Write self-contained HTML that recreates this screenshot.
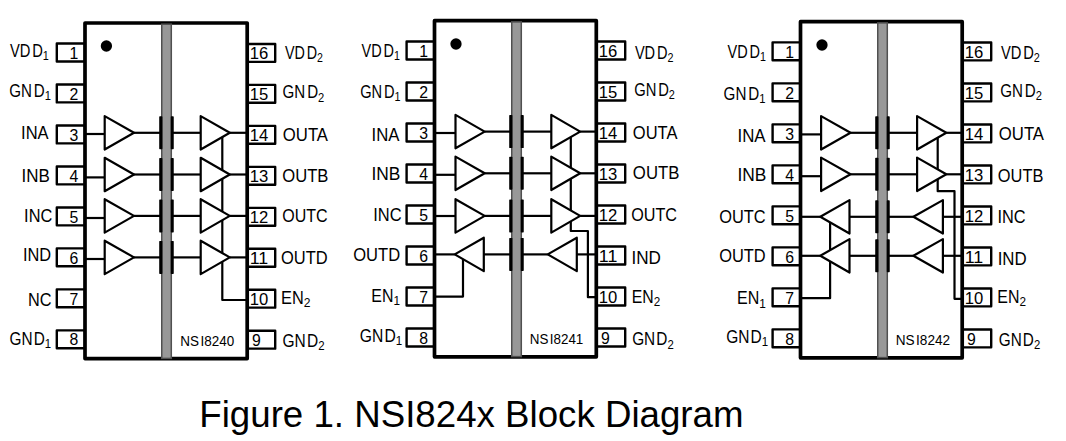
<!DOCTYPE html>
<html lang="en"><head><meta charset="utf-8"><title>Figure 1. NSI824x Block Diagram</title>
<style>html,body{margin:0;padding:0;background:#fff}svg{display:block}text{font-family:"Liberation Sans", sans-serif;fill:#000}.lb{font-size:17.6px}.sb{font-size:13px}.pn{font-size:15.8px}.nm{font-size:14px}.cap{font-size:37.4px;fill:#000}</style></head><body>
<svg width="1066" height="441" viewBox="0 0 1066 441">
<rect width="1066" height="441" fill="#fff"/>
<g>
<g fill="#fff" stroke="#000" stroke-width="2.4" stroke-linejoin="round">
<rect x="56.8" y="43.55" width="28.2" height="17.9"/>
<rect x="56.8" y="84.52" width="28.2" height="17.9"/>
<rect x="56.8" y="125.49" width="28.2" height="17.9"/>
<rect x="56.8" y="166.46" width="28.2" height="17.9"/>
<rect x="56.8" y="207.43" width="28.2" height="17.9"/>
<rect x="56.8" y="248.4" width="28.2" height="17.9"/>
<rect x="56.8" y="289.37" width="28.2" height="17.9"/>
<rect x="56.8" y="330.34" width="28.2" height="17.9"/>
<rect x="247.2" y="43.95" width="28" height="17.9"/>
<rect x="247.2" y="84.92" width="28" height="17.9"/>
<rect x="247.2" y="125.89" width="28" height="17.9"/>
<rect x="247.2" y="166.86" width="28" height="17.9"/>
<rect x="247.2" y="207.83" width="28" height="17.9"/>
<rect x="247.2" y="248.8" width="28" height="17.9"/>
<rect x="247.2" y="289.77" width="28" height="17.9"/>
<rect x="247.2" y="330.74" width="28" height="17.9"/>
</g>
<rect x="85" y="23" width="162.2" height="335.6" fill="#fff" stroke="#000" stroke-width="3.7" stroke-linejoin="round"/>
<circle cx="106.4" cy="46.0" r="5.65" fill="#000"/>
<rect x="161.75" y="24.2" width="9.55" height="334.2" fill="#989898" stroke="#505050" stroke-width="1.5"/>
<rect x="159.2" y="116.3" width="3.2" height="33" rx="0.7" fill="#000"/>
<rect x="170.75" y="116.3" width="3.0" height="33" rx="0.7" fill="#000"/>
<rect x="159.2" y="158" width="3.2" height="33" rx="0.7" fill="#000"/>
<rect x="170.75" y="158" width="3.0" height="33" rx="0.7" fill="#000"/>
<rect x="159.2" y="199.4" width="3.2" height="33" rx="0.7" fill="#000"/>
<rect x="170.75" y="199.4" width="3.0" height="33" rx="0.7" fill="#000"/>
<rect x="159.2" y="240.9" width="3.2" height="33" rx="0.7" fill="#000"/>
<rect x="170.75" y="240.9" width="3.0" height="33" rx="0.7" fill="#000"/>
<g fill="none" stroke="#000" stroke-width="2.2" stroke-linejoin="round">
<path d="M222.3 132.8L222.3 300L247.2 300"/>
<path d="M85 134L104.7 134"/>
<path fill="#fff" d="M104.7 116.1L134 132.8L104.7 149.5Z"/>
<path d="M134 132.8L160 132.8"/>
<path d="M173 132.8L200.7 132.8"/>
<path fill="#fff" d="M200.7 116.1L229.8 132.8L200.7 149.5Z"/>
<path d="M229.8 132.8L247.2 132.8"/>
<path d="M85 177.4L104.7 177.4"/>
<path fill="#fff" d="M104.7 157.8L134 174.5L104.7 191.2Z"/>
<path d="M134 174.5L160 174.5"/>
<path d="M173 174.5L200.7 174.5"/>
<path fill="#fff" d="M200.7 157.8L229.8 174.5L200.7 191.2Z"/>
<path d="M229.8 174.5L247.2 174.5"/>
<path d="M85 218L104.7 218"/>
<path fill="#fff" d="M104.7 199.2L134 215.9L104.7 232.6Z"/>
<path d="M134 215.9L160 215.9"/>
<path d="M173 215.9L200.7 215.9"/>
<path fill="#fff" d="M200.7 199.2L229.8 215.9L200.7 232.6Z"/>
<path d="M229.8 215.9L247.2 215.9"/>
<path d="M85 259L104.7 259"/>
<path fill="#fff" d="M104.7 240.7L134 257.4L104.7 274.1Z"/>
<path d="M134 257.4L160 257.4"/>
<path d="M173 257.4L200.7 257.4"/>
<path fill="#fff" d="M200.7 240.7L229.8 257.4L200.7 274.1Z"/>
<path d="M229.8 257.4L247.2 257.4"/>
</g>
<text class="pn" x="73.8" y="58.7" text-anchor="middle">1</text>
<text class="pn" x="73.8" y="99.67" text-anchor="middle">2</text>
<text class="pn" x="73.8" y="140.64" text-anchor="middle">3</text>
<text class="pn" x="73.8" y="181.61" text-anchor="middle">4</text>
<text class="pn" x="73.8" y="222.58" text-anchor="middle">5</text>
<text class="pn" x="73.8" y="263.55" text-anchor="middle">6</text>
<text class="pn" x="73.8" y="304.52" text-anchor="middle">7</text>
<text class="pn" x="73.8" y="345.49" text-anchor="middle">8</text>
<text class="pn" x="249.7" y="59.1" textLength="18.5" lengthAdjust="spacingAndGlyphs">16</text>
<text class="pn" x="249.7" y="100.07" textLength="18.5" lengthAdjust="spacingAndGlyphs">15</text>
<text class="pn" x="249.7" y="141.04" textLength="18.5" lengthAdjust="spacingAndGlyphs">14</text>
<text class="pn" x="249.7" y="182.01" textLength="18.5" lengthAdjust="spacingAndGlyphs">13</text>
<text class="pn" x="249.7" y="222.98" textLength="18.5" lengthAdjust="spacingAndGlyphs">12</text>
<text class="pn" x="249.7" y="263.95" textLength="18.5" lengthAdjust="spacingAndGlyphs">11</text>
<text class="pn" x="249.7" y="304.92" textLength="18.5" lengthAdjust="spacingAndGlyphs">10</text>
<text class="pn" x="251.9" y="345.89">9</text>
<text class="lb" x="9.91" y="57" textLength="38.98" lengthAdjust="spacingAndGlyphs">VD<tspan dx="2.2">D</tspan><tspan class="sb" dy="3.2">1</tspan></text>
<text class="lb" x="9.17" y="96.8" textLength="41.72" lengthAdjust="spacingAndGlyphs">GN<tspan dx="2.2">D</tspan><tspan class="sb" dy="3.2">1</tspan></text>
<text class="lb" x="21.1" y="139" textLength="27.5" lengthAdjust="spacingAndGlyphs">INA</text>
<text class="lb" x="21.5" y="182.2" textLength="28.33" lengthAdjust="spacingAndGlyphs">INB</text>
<text class="lb" x="24.1" y="221.6" textLength="28.15" lengthAdjust="spacingAndGlyphs">INC</text>
<text class="lb" x="22.9" y="260.8" textLength="28.24" lengthAdjust="spacingAndGlyphs">IND</text>
<text class="lb" x="28.11" y="305.8" textLength="23.53" lengthAdjust="spacingAndGlyphs">NC</text>
<text class="lb" x="9.57" y="344.9" textLength="41.59" lengthAdjust="spacingAndGlyphs">GN<tspan dx="1.3">D</tspan><tspan class="sb" dy="3.2">1</tspan></text>
<text class="lb" x="284.91" y="58.6" textLength="37.98" lengthAdjust="spacingAndGlyphs">VD<tspan dx="2.2">D</tspan><tspan class="sb" dy="3.2">2</tspan></text>
<text class="lb" x="282.57" y="98.3" textLength="41.72" lengthAdjust="spacingAndGlyphs">GN<tspan dx="2.2">D</tspan><tspan class="sb" dy="3.2">2</tspan></text>
<text class="lb" x="282.86" y="141.2" textLength="45.14" lengthAdjust="spacingAndGlyphs">OUTA</text>
<text class="lb" x="282.26" y="181.6" textLength="46.16" lengthAdjust="spacingAndGlyphs">OUTB</text>
<text class="lb" x="282.26" y="222" textLength="45.38" lengthAdjust="spacingAndGlyphs">OUTC</text>
<text class="lb" x="281.06" y="263.9" textLength="46.67" lengthAdjust="spacingAndGlyphs">OUTD</text>
<text class="lb" x="281.11" y="304" textLength="29.44" lengthAdjust="spacingAndGlyphs">EN<tspan class="sb" dy="3.2">2</tspan></text>
<text class="lb" x="282.57" y="347" textLength="41.99" lengthAdjust="spacingAndGlyphs">GN<tspan dx="1.3">D</tspan><tspan class="sb" dy="3.2">2</tspan></text>
<text class="nm" x="180.31" y="345.8" textLength="53.88" lengthAdjust="spacingAndGlyphs">NS<tspan dx="1.5">I</tspan>8240</text>
</g>
<g>
<g fill="#fff" stroke="#000" stroke-width="2.4" stroke-linejoin="round">
<rect x="406.6" y="41.55" width="27.9" height="17.9"/>
<rect x="406.6" y="82.55" width="27.9" height="17.9"/>
<rect x="406.6" y="123.55" width="27.9" height="17.9"/>
<rect x="406.6" y="164.55" width="27.9" height="17.9"/>
<rect x="406.6" y="205.55" width="27.9" height="17.9"/>
<rect x="406.6" y="246.55" width="27.9" height="17.9"/>
<rect x="406.6" y="287.55" width="27.9" height="17.9"/>
<rect x="406.6" y="328.55" width="27.9" height="17.9"/>
<rect x="596.3" y="41.55" width="28.9" height="17.9"/>
<rect x="596.3" y="82.55" width="28.9" height="17.9"/>
<rect x="596.3" y="123.55" width="28.9" height="17.9"/>
<rect x="596.3" y="164.55" width="28.9" height="17.9"/>
<rect x="596.3" y="205.55" width="28.9" height="17.9"/>
<rect x="596.3" y="246.55" width="28.9" height="17.9"/>
<rect x="596.3" y="287.55" width="28.9" height="17.9"/>
<rect x="596.3" y="328.55" width="28.9" height="17.9"/>
</g>
<rect x="434.5" y="20.7" width="161.8" height="336.1" fill="#fff" stroke="#000" stroke-width="3.7" stroke-linejoin="round"/>
<circle cx="456.0" cy="44.0" r="5.65" fill="#000"/>
<rect x="511.75" y="21.9" width="9.55" height="334.7" fill="#989898" stroke="#505050" stroke-width="1.5"/>
<rect x="509.2" y="115.1" width="3.2" height="33" rx="0.7" fill="#000"/>
<rect x="520.75" y="115.1" width="3.0" height="33" rx="0.7" fill="#000"/>
<rect x="509.2" y="156.8" width="3.2" height="33" rx="0.7" fill="#000"/>
<rect x="520.75" y="156.8" width="3.0" height="33" rx="0.7" fill="#000"/>
<rect x="509.2" y="199.4" width="3.2" height="33" rx="0.7" fill="#000"/>
<rect x="520.75" y="199.4" width="3.0" height="33" rx="0.7" fill="#000"/>
<rect x="509.2" y="237.9" width="3.2" height="33" rx="0.7" fill="#000"/>
<rect x="520.75" y="237.9" width="3.0" height="33" rx="0.7" fill="#000"/>
<g fill="none" stroke="#000" stroke-width="2.2" stroke-linejoin="round">
<path d="M463 254.4L463 296.6L434.5 296.6"/>
<path d="M570.8 131.6L570.8 231L587.9 231L587.9 297.2L596.3 297.2"/>
<path d="M434.5 133L455.5 133"/>
<path fill="#fff" d="M455.5 114.9L484.7 131.6L455.5 148.3Z"/>
<path d="M484.7 131.6L510.2 131.6"/>
<path d="M522.8 131.6L551.3 131.6"/>
<path fill="#fff" d="M551.3 114.9L580.2 131.6L551.3 148.3Z"/>
<path d="M580.2 131.6L596.3 131.6"/>
<path d="M434.5 174.8L455.5 174.8"/>
<path fill="#fff" d="M455.5 156.6L484.7 173.3L455.5 190Z"/>
<path d="M484.7 173.3L510.2 173.3"/>
<path d="M522.8 173.3L551.3 173.3"/>
<path fill="#fff" d="M551.3 156.6L580.2 173.3L551.3 190Z"/>
<path d="M580.2 173.3L596.3 173.3"/>
<path d="M434.5 216L455.5 216"/>
<path fill="#fff" d="M455.5 199.2L484.7 215.9L455.5 232.6Z"/>
<path d="M484.7 215.9L510.2 215.9"/>
<path d="M522.8 215.9L551.3 215.9"/>
<path fill="#fff" d="M551.3 199.2L580.2 215.9L551.3 232.6Z"/>
<path d="M580.2 215.9L596.3 215.9"/>
<path d="M434.5 254.4L454.7 254.4"/>
<path fill="#fff" d="M483.8 237.7L454.7 254.4L483.8 271.1Z"/>
<path d="M483.8 254.4L510.2 254.4"/>
<path d="M522.8 254.4L547.7 254.4"/>
<path fill="#fff" d="M576.8 237.7L547.7 254.4L576.8 271.1Z"/>
<path d="M576.8 254.4L596.3 254.4"/>
</g>
<text class="pn" x="423.6" y="56.7" text-anchor="middle">1</text>
<text class="pn" x="423.6" y="97.7" text-anchor="middle">2</text>
<text class="pn" x="423.6" y="138.7" text-anchor="middle">3</text>
<text class="pn" x="423.6" y="179.7" text-anchor="middle">4</text>
<text class="pn" x="423.6" y="220.7" text-anchor="middle">5</text>
<text class="pn" x="423.6" y="261.7" text-anchor="middle">6</text>
<text class="pn" x="423.6" y="302.7" text-anchor="middle">7</text>
<text class="pn" x="423.6" y="343.7" text-anchor="middle">8</text>
<text class="pn" x="598.8" y="56.7" textLength="18.5" lengthAdjust="spacingAndGlyphs">16</text>
<text class="pn" x="598.8" y="97.7" textLength="18.5" lengthAdjust="spacingAndGlyphs">15</text>
<text class="pn" x="598.8" y="138.7" textLength="18.5" lengthAdjust="spacingAndGlyphs">14</text>
<text class="pn" x="598.8" y="179.7" textLength="18.5" lengthAdjust="spacingAndGlyphs">13</text>
<text class="pn" x="598.8" y="220.7" textLength="18.5" lengthAdjust="spacingAndGlyphs">12</text>
<text class="pn" x="598.8" y="261.7" textLength="18.5" lengthAdjust="spacingAndGlyphs">11</text>
<text class="pn" x="598.8" y="302.7" textLength="18.5" lengthAdjust="spacingAndGlyphs">10</text>
<text class="pn" x="601" y="343.7">9</text>
<text class="lb" x="361.51" y="57" textLength="38.38" lengthAdjust="spacingAndGlyphs">VD<tspan dx="2.2">D</tspan><tspan class="sb" dy="3.2">1</tspan></text>
<text class="lb" x="360.17" y="98" textLength="40.32" lengthAdjust="spacingAndGlyphs">GN<tspan dx="2.2">D</tspan><tspan class="sb" dy="3.2">1</tspan></text>
<text class="lb" x="371.5" y="140.8" textLength="27.9" lengthAdjust="spacingAndGlyphs">INA</text>
<text class="lb" x="371.5" y="180.2" textLength="28.93" lengthAdjust="spacingAndGlyphs">INB</text>
<text class="lb" x="373.3" y="221.2" textLength="28.35" lengthAdjust="spacingAndGlyphs">INC</text>
<text class="lb" x="353.26" y="261" textLength="46.87" lengthAdjust="spacingAndGlyphs">OUTD</text>
<text class="lb" x="371.31" y="302.1" textLength="28.64" lengthAdjust="spacingAndGlyphs">EN<tspan class="sb" dy="3.2">1</tspan></text>
<text class="lb" x="359.77" y="342.1" textLength="42.39" lengthAdjust="spacingAndGlyphs">GN<tspan dx="1.3">D</tspan><tspan class="sb" dy="3.2">1</tspan></text>
<text class="lb" x="634.91" y="58.6" textLength="38.58" lengthAdjust="spacingAndGlyphs">VD<tspan dx="2.2">D</tspan><tspan class="sb" dy="3.2">2</tspan></text>
<text class="lb" x="634.17" y="96.2" textLength="40.72" lengthAdjust="spacingAndGlyphs">GN<tspan dx="2.2">D</tspan><tspan class="sb" dy="3.2">2</tspan></text>
<text class="lb" x="632.86" y="139" textLength="44.54" lengthAdjust="spacingAndGlyphs">OUTA</text>
<text class="lb" x="632.86" y="179" textLength="46.56" lengthAdjust="spacingAndGlyphs">OUTB</text>
<text class="lb" x="631.26" y="220.6" textLength="45.78" lengthAdjust="spacingAndGlyphs">OUTC</text>
<text class="lb" x="631.5" y="263.6" textLength="29.44" lengthAdjust="spacingAndGlyphs">IND</text>
<text class="lb" x="631.71" y="302.6" textLength="28.44" lengthAdjust="spacingAndGlyphs">EN<tspan class="sb" dy="3.2">2</tspan></text>
<text class="lb" x="632.17" y="345.3" textLength="41.59" lengthAdjust="spacingAndGlyphs">GN<tspan dx="1.3">D</tspan><tspan class="sb" dy="3.2">2</tspan></text>
<text class="nm" x="529.71" y="343.6" textLength="53.59" lengthAdjust="spacingAndGlyphs">NS<tspan dx="1.5">I</tspan>8241</text>
</g>
<g>
<g fill="#fff" stroke="#000" stroke-width="2.4" stroke-linejoin="round">
<rect x="772.6" y="42.35" width="27.9" height="17.9"/>
<rect x="772.6" y="83.35" width="27.9" height="17.9"/>
<rect x="772.6" y="124.35" width="27.9" height="17.9"/>
<rect x="772.6" y="165.35" width="27.9" height="17.9"/>
<rect x="772.6" y="206.35" width="27.9" height="17.9"/>
<rect x="772.6" y="247.35" width="27.9" height="17.9"/>
<rect x="772.6" y="288.35" width="27.9" height="17.9"/>
<rect x="772.6" y="329.35" width="27.9" height="17.9"/>
<rect x="962.2" y="42.45" width="29" height="17.9"/>
<rect x="962.2" y="83.45" width="29" height="17.9"/>
<rect x="962.2" y="124.45" width="29" height="17.9"/>
<rect x="962.2" y="165.45" width="29" height="17.9"/>
<rect x="962.2" y="206.45" width="29" height="17.9"/>
<rect x="962.2" y="247.45" width="29" height="17.9"/>
<rect x="962.2" y="288.45" width="29" height="17.9"/>
<rect x="962.2" y="329.45" width="29" height="17.9"/>
</g>
<rect x="800.5" y="21.7" width="161.7" height="336.1" fill="#fff" stroke="#000" stroke-width="3.7" stroke-linejoin="round"/>
<circle cx="822.0" cy="45.0" r="5.65" fill="#000"/>
<rect x="877.75" y="22.9" width="9.55" height="334.7" fill="#989898" stroke="#505050" stroke-width="1.5"/>
<rect x="875.2" y="116.3" width="3.2" height="33" rx="0.7" fill="#000"/>
<rect x="886.75" y="116.3" width="3.0" height="33" rx="0.7" fill="#000"/>
<rect x="875.2" y="157.8" width="3.2" height="33" rx="0.7" fill="#000"/>
<rect x="886.75" y="157.8" width="3.0" height="33" rx="0.7" fill="#000"/>
<rect x="875.2" y="200.3" width="3.2" height="33" rx="0.7" fill="#000"/>
<rect x="886.75" y="200.3" width="3.0" height="33" rx="0.7" fill="#000"/>
<rect x="875.2" y="239.3" width="3.2" height="33" rx="0.7" fill="#000"/>
<rect x="886.75" y="239.3" width="3.0" height="33" rx="0.7" fill="#000"/>
<g fill="none" stroke="#000" stroke-width="2.2" stroke-linejoin="round">
<path d="M830.1 216.8L830.1 298.2L800.5 298.2"/>
<path d="M937.7 132.8L937.7 191.2L954.5 191.2L954.5 298.8L962.2 298.8"/>
<path d="M800.5 134.4L821.1 134.4"/>
<path fill="#fff" d="M821.1 116.1L850.5 132.8L821.1 149.5Z"/>
<path d="M850.5 132.8L876.2 132.8"/>
<path d="M888.8 132.8L917.1 132.8"/>
<path fill="#fff" d="M917.1 116.1L946.3 132.8L917.1 149.5Z"/>
<path d="M946.3 132.8L962.2 132.8"/>
<path d="M800.5 176.2L821.1 176.2"/>
<path fill="#fff" d="M821.1 157.6L850.5 174.3L821.1 191Z"/>
<path d="M850.5 174.3L876.2 174.3"/>
<path d="M888.8 174.3L917.1 174.3"/>
<path fill="#fff" d="M917.1 157.6L946.3 174.3L917.1 191Z"/>
<path d="M946.3 174.3L962.2 174.3"/>
<path d="M800.5 216.8L820.3 216.8"/>
<path fill="#fff" d="M849.5 200.1L820.3 216.8L849.5 233.5Z"/>
<path d="M849.5 216.8L876.2 216.8"/>
<path d="M888.8 216.8L913.4 216.8"/>
<path fill="#fff" d="M942.9 200.1L913.4 216.8L942.9 233.5Z"/>
<path d="M942.9 216.8L962.2 216.8"/>
<path d="M800.5 255.8L820.3 255.8"/>
<path fill="#fff" d="M849.5 239.1L820.3 255.8L849.5 272.5Z"/>
<path d="M849.5 255.8L876.2 255.8"/>
<path d="M888.8 255.8L913.4 255.8"/>
<path fill="#fff" d="M942.9 239.1L913.4 255.8L942.9 272.5Z"/>
<path d="M942.9 255.8L962.2 255.8"/>
</g>
<text class="pn" x="789.6" y="57.5" text-anchor="middle">1</text>
<text class="pn" x="789.6" y="98.5" text-anchor="middle">2</text>
<text class="pn" x="789.6" y="139.5" text-anchor="middle">3</text>
<text class="pn" x="789.6" y="180.5" text-anchor="middle">4</text>
<text class="pn" x="789.6" y="221.5" text-anchor="middle">5</text>
<text class="pn" x="789.6" y="262.5" text-anchor="middle">6</text>
<text class="pn" x="789.6" y="303.5" text-anchor="middle">7</text>
<text class="pn" x="789.6" y="344.5" text-anchor="middle">8</text>
<text class="pn" x="964.7" y="57.6" textLength="18.5" lengthAdjust="spacingAndGlyphs">16</text>
<text class="pn" x="964.7" y="98.6" textLength="18.5" lengthAdjust="spacingAndGlyphs">15</text>
<text class="pn" x="964.7" y="139.6" textLength="18.5" lengthAdjust="spacingAndGlyphs">14</text>
<text class="pn" x="964.7" y="180.6" textLength="18.5" lengthAdjust="spacingAndGlyphs">13</text>
<text class="pn" x="964.7" y="221.6" textLength="18.5" lengthAdjust="spacingAndGlyphs">12</text>
<text class="pn" x="964.7" y="262.6" textLength="18.5" lengthAdjust="spacingAndGlyphs">11</text>
<text class="pn" x="964.7" y="303.6" textLength="18.5" lengthAdjust="spacingAndGlyphs">10</text>
<text class="pn" x="966.9" y="344.6">9</text>
<text class="lb" x="727.51" y="57.6" textLength="38.38" lengthAdjust="spacingAndGlyphs">VD<tspan dx="2.2">D</tspan><tspan class="sb" dy="3.2">1</tspan></text>
<text class="lb" x="723.57" y="99.9" textLength="41.92" lengthAdjust="spacingAndGlyphs">GN<tspan dx="2.2">D</tspan><tspan class="sb" dy="3.2">1</tspan></text>
<text class="lb" x="737.5" y="142.3" textLength="28.1" lengthAdjust="spacingAndGlyphs">INA</text>
<text class="lb" x="737.5" y="180.9" textLength="28.93" lengthAdjust="spacingAndGlyphs">INB</text>
<text class="lb" x="719.26" y="223.3" textLength="46.38" lengthAdjust="spacingAndGlyphs">OUTC</text>
<text class="lb" x="719.26" y="262" textLength="46.47" lengthAdjust="spacingAndGlyphs">OUTD</text>
<text class="lb" x="737.11" y="304.3" textLength="28.84" lengthAdjust="spacingAndGlyphs">EN<tspan class="sb" dy="3.2">1</tspan></text>
<text class="lb" x="726.17" y="343" textLength="41.99" lengthAdjust="spacingAndGlyphs">GN<tspan dx="1.3">D</tspan><tspan class="sb" dy="3.2">1</tspan></text>
<text class="lb" x="1000.91" y="59" textLength="38.98" lengthAdjust="spacingAndGlyphs">VD<tspan dx="2.2">D</tspan><tspan class="sb" dy="3.2">2</tspan></text>
<text class="lb" x="1000.17" y="97.1" textLength="41.72" lengthAdjust="spacingAndGlyphs">GN<tspan dx="2.2">D</tspan><tspan class="sb" dy="3.2">2</tspan></text>
<text class="lb" x="998.86" y="140.3" textLength="45.14" lengthAdjust="spacingAndGlyphs">OUTA</text>
<text class="lb" x="997.86" y="182" textLength="45.56" lengthAdjust="spacingAndGlyphs">OUTB</text>
<text class="lb" x="997.5" y="223.3" textLength="28.15" lengthAdjust="spacingAndGlyphs">INC</text>
<text class="lb" x="997.7" y="264.6" textLength="29.04" lengthAdjust="spacingAndGlyphs">IND</text>
<text class="lb" x="997.31" y="302.9" textLength="28.64" lengthAdjust="spacingAndGlyphs">EN<tspan class="sb" dy="3.2">2</tspan></text>
<text class="lb" x="998.77" y="345.8" textLength="41.39" lengthAdjust="spacingAndGlyphs">GN<tspan dx="1.3">D</tspan><tspan class="sb" dy="3.2">2</tspan></text>
<text class="nm" x="895.71" y="344.6" textLength="54.39" lengthAdjust="spacingAndGlyphs">NS<tspan dx="1.5">I</tspan>8242</text>
</g>
<text class="cap" x="199.3" y="426.8" textLength="544.2" lengthAdjust="spacingAndGlyphs">Figure 1. NSI824x Block Diagram</text>
</svg></body></html>
